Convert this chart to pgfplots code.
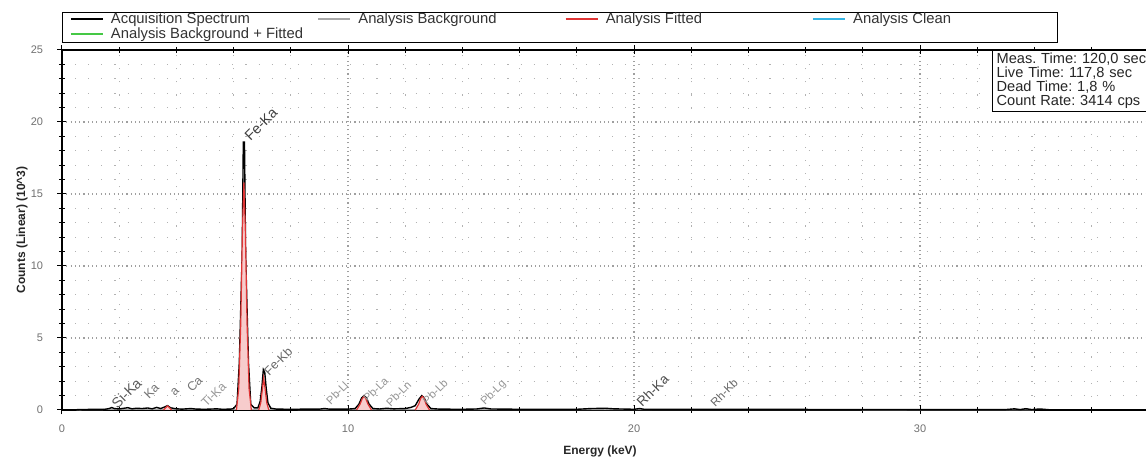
\documentclass[border=0pt]{standalone}
\usepackage{fontspec}
\setmainfont{Liberation Sans}
\usepackage{pgfplots}
\pgfplotsset{compat=1.18}
\definecolor{fitred}{HTML}{E03535}
\definecolor{bggray}{HTML}{A8A8A8}
\definecolor{cleancyan}{HTML}{35B5E5}
\definecolor{bgfgreen}{HTML}{45C845}
\definecolor{ticktxt}{HTML}{707070}
\frenchspacing
\newcommand{\lent}[2]{\makebox[#1][l]{\rule[-0.5pt]{0pt}{5.9pt}\hspace{3.4pt}\textcolor{black!80}{#2}}}
\begin{document}
\begin{tikzpicture}[x=1pt,y=1pt]
\useasboundingbox (0,0) rectangle (573,229.5);
\begin{axis}[
  at={(31pt,24.5pt)}, anchor=south west,
  scale only axis, width=546.26pt, height=180pt,
  xmin=0, xmax=38.2, ymin=0, ymax=25,
  clip=false,
  unbounded coords=jump,
  axis line style={black, line width=0.6pt},
  xtick={0,10,20,30}, minor xtick={2,4,6,8,12,14,16,18,22,24,26,28,32,34,36,38},
  ytick={0,5,10,15,20,25}, minor ytick={1,2,3,4,6,7,8,9,11,12,13,14,16,17,18,19,21,22,23,24},
  tick align=center, major tick length=4.5pt, minor tick length=3pt,
  tick style={black, line width=0.5pt},
  grid=both,
  major grid style={gray!75, line width=0.55pt, dash pattern=on 0.55pt off 1.6pt},
  minor grid style={gray!60, line width=0.55pt, dash pattern=on 0.55pt off 6pt},
  /pgf/number format/assume math mode=true,
  xticklabel style={font=\fontsize{5.5}{6}\selectfont, text=ticktxt, anchor=center, yshift=-7pt},
  yticklabel style={font=\fontsize{5.5}{6}\selectfont, text=ticktxt, anchor=east, inner sep=0pt, xshift=-7pt},
  xlabel={Energy (keV)},
  xlabel style={at={(axis description cs:0.4925,0)}, anchor=center, yshift=-20.5pt, font=\bfseries\fontsize{6}{7}\selectfont, text=black!85},
  ylabel={Counts (Linear) (10\textasciicircum 3)},
  ylabel style={at={(axis description cs:-0.0366,0.5)}, anchor=center, font=\bfseries\fontsize{6}{7}\selectfont, text=black!85},
  legend columns=4,
  legend style={at={(0,1)}, anchor=south west, yshift=3.5pt, draw=black, line width=0.6pt,
    inner xsep=3.7pt, inner ysep=0pt, font=\fontsize{7.4}{8}\selectfont,
    nodes={inner sep=0.3pt}, column sep=0pt, row sep=0pt},
  legend image code/.code={\draw[line width=0.8pt] (0pt,0.5pt) -- (16pt,0.5pt);},
]
% Analysis background
\addplot[bggray, line width=0.5pt, forget plot] coordinates {
(0.5,0.01) (1,0.03) (2,0.04) (4,0.04) (6,0.04) (10,0.03) (15,0.03) (20,0.02) (25,0.02) (30,0.015) (34,0.01)};
% Acquisition spectrum
\addplot[black, line width=0.7pt, forget plot] coordinates {
(0.45,0) (0.55,0.03) (1.0,0.04) (1.5,0.05) (1.65,0.1) (1.74,0.17) (1.83,0.1) (2.0,0.07)
(2.3,0.16) (2.45,0.08) (2.6,0.12) (2.8,0.1) (3.0,0.14) (3.15,0.08) (3.31,0.18) (3.45,0.1)
(3.6,0.22) (3.69,0.3) (3.8,0.15) (4.0,0.08) (4.2,0.06) (4.51,0.1) (4.7,0.06) (5.0,0.05)
(5.41,0.08) (5.6,0.05) (5.9,0.06) (6.0,0.1) (6.12,0.4) (6.2,3.3) (6.26,7.8) (6.3,10.9)
(6.34,18.6) (6.38,18.6) (6.42,10.9) (6.46,7.8) (6.52,3.3) (6.6,0.4) (6.72,0.15) (6.85,0.15)
(6.93,0.6) (6.99,1.6) (7.04,2.8) (7.09,2.6) (7.14,1.5) (7.2,0.5) (7.3,0.12) (7.5,0.06)
(8.0,0.05) (8.6,0.06) (9.0,0.06) (9.18,0.1) (9.35,0.06) (10.0,0.06) (10.25,0.1) (10.38,0.4)
(10.48,0.85) (10.56,1.0) (10.64,0.85) (10.74,0.4) (10.87,0.1) (11.1,0.07) (11.35,0.12)
(11.6,0.08) (12.0,0.1) (12.2,0.18) (12.35,0.3) (12.48,0.75) (12.58,1.0) (12.66,0.85)
(12.76,0.4) (12.9,0.1) (13.2,0.06) (14.0,0.05) (14.5,0.07) (14.76,0.14) (15.0,0.07)
(16.0,0.05) (18.0,0.05) (18.5,0.1) (19.0,0.12) (19.3,0.08) (20.0,0.05) (20.2,0.1)
(20.35,0.05) (22.0,0.04) (22.7,0.04) (25.0,0.04) (30.0,0.03) (33.0,0.03) (33.3,0.08)
(33.5,0.03) (33.7,0.09) (33.9,0.03) (34.2,0.07) (34.5,0.02) (35.0,0)};
% Analysis fitted
\addplot[fitred, line width=0.6pt, fill=fitred!25, forget plot] coordinates {
(3.55,0) (3.62,0.15) (3.69,0.28) (3.76,0.15) (3.83,0) (4.5,nan)
(6.1,0) (6.18,1.5) (6.25,6) (6.31,12.5) (6.36,15.8) (6.41,12.5) (6.47,6) (6.54,1.5) (6.62,0) (6.8,nan)
(6.88,0) (6.95,0.5) (7.01,1.5) (7.05,2.2) (7.1,1.5) (7.16,0.5) (7.23,0) (8,nan)
(10.3,0) (10.42,0.4) (10.5,0.8) (10.56,0.95) (10.62,0.8) (10.7,0.4) (10.82,0) (11.5,nan)
(12.35,0) (12.47,0.4) (12.54,0.8) (12.6,0.95) (12.66,0.8) (12.73,0.4) (12.85,0)};
\addlegendimage{draw=black}
\addlegendentry{\lent{106.3pt}{Acquisition Spectrum}}
\addlegendimage{draw=bggray}
\addlegendentry{\lent{106.3pt}{Analysis Background}}
\addlegendimage{draw=fitred}
\addlegendentry{\lent{106.3pt}{Analysis Fitted}}
\addlegendimage{draw=cleancyan}
\addlegendentry{\lent{101.4pt}{Analysis Clean}}
\addlegendimage{draw=bgfgreen}
\addlegendentry{\lent{106.3pt}{Analysis Background + Fitted}}
% peak labels
\tikzset{biglab/.style={rotate=45, anchor=south west, inner sep=0pt, text=black!75, font=\fontsize{7.2}{8}\selectfont},
         smalllab/.style={rotate=45, anchor=south west, inner sep=0pt, text=gray!85, font=\fontsize{5.6}{6}\selectfont}}
\node[biglab] at (axis cs:6.6,18.6) {Fe-Ka};
\node[smalllab, font=\fontsize{6.2}{7}\selectfont, text=black!60] at (axis cs:7.25,2.3) {Fe-Kb};
\node[biglab, text=black!65] at (axis cs:1.95,0.0) {Si-Ka};
\node[smalllab, font=\fontsize{6.2}{7}\selectfont, text=black!55] at (axis cs:3.05,0.7) {Ka};
\node[smalllab, font=\fontsize{6.2}{7}\selectfont, text=black!55] at (axis cs:3.95,0.9) {a};
\node[smalllab, font=\fontsize{6.2}{7}\selectfont, text=black!55] at (axis cs:4.55,1.15) {Ca};
\node[smalllab, font=\fontsize{6.2}{7}\selectfont, text=black!40] at (axis cs:5.05,0.1) {Ti-Ka};
\node[smalllab] at (axis cs:9.4,0.3) {Pb-Ll};
\node[smalllab] at (axis cs:10.7,0.45) {Pb-La};
\node[smalllab] at (axis cs:11.5,0.15) {Pb-Ln};
\node[smalllab] at (axis cs:12.78,0.3) {Pb-Lb};
\node[smalllab] at (axis cs:14.85,0.15) {Pb-Lg};
\node[biglab, font=\fontsize{6.8}{8}\selectfont, text=black!70] at (axis cs:20.3,0.1) {Rh-Ka};
\node[smalllab, font=\fontsize{5.8}{7}\selectfont, text=black!60] at (axis cs:22.85,0.15) {Rh-Kb};
\end{axis}
\node[draw=black, line width=0.6pt, fill=white, anchor=north west, inner xsep=2pt, inner ysep=1.3pt,
      text width=86pt, align=left, font=\fontsize{7.3}{7}\selectfont, text=black!85] at (496,204.5)
  {Meas. Time: 120,0 sec\\Live Time: 117,8 sec\\Dead Time: 1,8 \%\\Count Rate: 3414 cps};
\end{tikzpicture}
\end{document}
